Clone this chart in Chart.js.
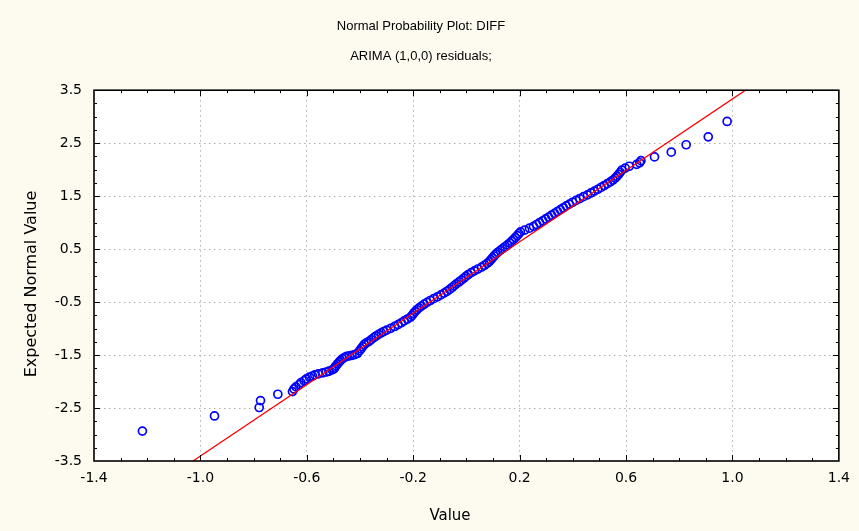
<!DOCTYPE html>
<html>
<head>
<meta charset="utf-8">
<script src="https://cdn.jsdelivr.net/npm/chart.js@4.4.1/dist/chart.umd.min.js"></script>
<style>
  html, body { margin: 0; padding: 0; background: #fdfaf0; }
  #wrap { width: 859px; height: 531px; }
</style>
</head>
<body>
<div id="wrap"><canvas id="c" width="859" height="531"></canvas></div>
<script>
// ---- data ----
const chartTitle = 'Normal Probability Plot: DIFF';
const chartSubtitle = 'ARIMA (1,0,0) residuals;';
const xAxisTitle = 'Value';
const yAxisTitle = 'Expected Normal Value';

const xTickLabels = ['-1.4', '-1.0', '-0.6', '-0.2', '0.2', '0.6', '1.0', '1.4'];
const yTickLabels = ['-3.5', '-2.5', '-1.5', '-0.5', '0.5', '1.5', '2.5', '3.5'];

// residual values (x) and their expected normal values (y)
const values = [
  -1.218,-0.947,-0.779,-0.774,-0.709,-0.654,-0.648,-0.641,-0.629,-0.622,
  -0.610,-0.602,-0.590,-0.579,-0.570,-0.557,-0.540,-0.527,-0.517,-0.505,
  -0.498,-0.494,-0.490,-0.484,-0.478,-0.473,-0.466,-0.458,-0.450,-0.440,
  -0.430,-0.420,-0.410,-0.402,-0.396,-0.390,-0.384,-0.376,-0.367,-0.358,
  -0.348,-0.340,-0.330,-0.320,-0.311,-0.300,
  -0.285,-0.270,-0.257,-0.245,-0.234,-0.222,-0.210,-0.204,-0.199,-0.193,
  -0.186,-0.178,-0.169,-0.159,-0.148,-0.136,-0.123,-0.109,-0.096,-0.084,
  -0.073,-0.063,-0.054,-0.046,-0.038,-0.028,-0.019,-0.010,-0.002,0.007,
  0.018,0.030,0.043,0.057,0.068,0.078,0.086,0.092,0.098,0.104,
  0.110,0.118,0.127,0.136,0.145,0.154,0.163,0.170,0.177,0.184,
  0.191,0.197,0.203,0.219,0.237,0.252,0.264,0.275,0.287,0.298,
  0.309,0.320,0.331,0.342,0.353,0.364,0.375,0.387,0.399,0.412,
  0.426,0.440,0.455,0.468,0.481,0.494,0.506,0.518,0.530,0.541,
  0.551,0.559,0.566,0.572,0.578,0.584,
  0.597,0.612,0.640,0.651,0.656,0.707,0.770,0.826,0.909,0.980
];
const expected = [
  -2.935,-2.650,-2.490,-2.360,-2.240,-2.190,-2.140,-2.100,-2.060,-2.020,
  -1.985,-1.950,-1.915,-1.895,-1.875,-1.855,-1.835,-1.820,-1.805,-1.780,
  -1.760,-1.730,-1.700,-1.665,-1.630,-1.600,-1.570,-1.545,-1.525,-1.515,
  -1.505,-1.490,-1.470,-1.420,-1.380,-1.340,-1.300,-1.270,-1.245,-1.210,
  -1.170,-1.140,-1.110,-1.080,-1.055,-1.030,
  -0.995,-0.960,-0.925,-0.890,-0.855,-0.820,-0.785,-0.750,-0.715,-0.680,
  -0.645,-0.610,-0.575,-0.540,-0.505,-0.470,-0.435,-0.400,-0.365,-0.330,
  -0.295,-0.260,-0.225,-0.190,-0.155,-0.120,-0.085,-0.050,-0.015,0.020,
  0.055,0.090,0.125,0.160,0.195,0.230,0.265,0.300,0.335,0.370,
  0.405,0.440,0.475,0.510,0.545,0.580,0.615,0.650,0.685,0.720,
  0.755,0.790,0.825,0.860,0.895,0.930,0.965,1.000,1.035,1.070,
  1.105,1.140,1.175,1.210,1.245,1.280,1.315,1.350,1.385,1.420,
  1.455,1.490,1.525,1.560,1.595,1.630,1.665,1.700,1.735,1.770,
  1.805,1.840,1.875,1.910,1.950,1.990,
  2.030,2.064,2.100,2.130,2.170,2.240,2.330,2.470,2.620,2.910
];

// reference (normal) line end points
const lineX = [-1.028, 1.049];
const lineY = [-3.5, 3.5];

const xMin = -1.4, xMax = 1.4, xStep = 0.4, xMinorStep = 0.1;
const yMin = -3.5, yMax = 3.5, yStep = 1.0, yMinorStep = 0.25;

// ---- build chart ----
const points = values.map((v, i) => ({ x: v, y: expected[i] }));
const linePts = lineX.map((v, i) => ({ x: v, y: lineY[i] }));

const frameColor = '#000000';
const gridColor = '#b0b0b0';

const framePlugin = {
  id: 'frame',
  beforeDraw(chart) {
    const { ctx, chartArea: a } = chart;
    ctx.save();
    ctx.fillStyle = '#fdfaf0';
    ctx.fillRect(0, 0, chart.width, chart.height);
    ctx.fillStyle = '#ffffff';
    ctx.fillRect(a.left, a.top, a.right - a.left, a.bottom - a.top);
    ctx.restore();
  },
  afterDraw(chart) {
    const { ctx, chartArea: a, scales } = chart;
    const xs = scales.x, ys = scales.y;
    ctx.save();
    ctx.strokeStyle = frameColor;
    ctx.lineWidth = 1;
    ctx.beginPath();
    const nX = Math.round((xMax - xMin) / xMinorStep);
    for (let i = 1; i < nX; i++) {
      const v = xMin + i * xMinorStep;
      const px = Math.round(xs.getPixelForValue(v)) + 0.5;
      const major = (i % Math.round(xStep / xMinorStep)) === 0;
      const len = major ? 6 : 3;
      ctx.moveTo(px, a.bottom); ctx.lineTo(px, a.bottom - len);
      ctx.moveTo(px, a.top); ctx.lineTo(px, a.top + len);
    }
    const nY = Math.round((yMax - yMin) / yMinorStep);
    for (let i = 1; i < nY; i++) {
      const v = yMin + i * yMinorStep;
      const py = Math.round(ys.getPixelForValue(v)) + 0.5;
      const major = (i % Math.round(yStep / yMinorStep)) === 0;
      const len = major ? 6 : 3;
      ctx.moveTo(a.left, py); ctx.lineTo(a.left + len, py);
      ctx.moveTo(a.right, py); ctx.lineTo(a.right - len, py);
    }
    ctx.stroke();
    ctx.lineWidth = 1.6;
    ctx.strokeRect(a.left, a.top, a.right - a.left, a.bottom - a.top);

    // axis titles (placed as in the reference, slightly off the plot centre)
    ctx.fillStyle = '#000000';
    ctx.textAlign = 'center';
    ctx.textBaseline = 'middle';
    ctx.font = '15px "DejaVu Sans"';
    ctx.fillText(xAxisTitle, 450, 516);
    ctx.save();
    ctx.translate(32, 284);
    ctx.rotate(-Math.PI / 2);
    ctx.font = '16px "DejaVu Sans"';
    ctx.fillText(yAxisTitle, 0, 0);
    ctx.restore();
    ctx.restore();
  }
};

const edgeTransparent = (scaleMin, scaleMax) => (ctx) => {
  const v = ctx.tick ? ctx.tick.value : null;
  if (v === null) return gridColor;
  if (Math.abs(v - scaleMin) < 1e-6 || Math.abs(v - scaleMax) < 1e-6) return 'rgba(0,0,0,0)';
  return gridColor;
};

new Chart(document.getElementById('c'), {
  type: 'scatter',
  data: {
    datasets: [
      {
        type: 'line',
        label: 'normal line',
        data: linePts,
        borderColor: '#ff0000',
        borderWidth: 1.3,
        pointRadius: 0,
        fill: false,
        tension: 0,
        order: 0
      },
      {
        label: 'residuals',
        data: points,
        pointStyle: 'circle',
        pointRadius: 4,
        pointBorderWidth: 1.7,
        borderColor: '#0000ff',
        backgroundColor: 'rgba(0,0,0,0)',
        pointBackgroundColor: 'rgba(0,0,0,0)',
        pointBorderColor: '#0000ff',
        order: 1
      }
    ]
  },
  options: {
    responsive: false,
    animation: false,
    devicePixelRatio: 1,
    layout: { padding: { left: 0, right: 17, top: 0, bottom: 0 } },
    plugins: {
      legend: { display: false },
      tooltip: { enabled: false },
      title: {
        display: true,
        text: chartTitle,
        color: '#000000',
        font: { family: 'Liberation Sans', size: 13, weight: 'normal', lineHeight: 1.2 },
        padding: { top: 19, bottom: 7 }
      },
      subtitle: {
        display: true,
        text: chartSubtitle,
        color: '#000000',
        font: { family: 'Liberation Sans', size: 13, weight: 'normal', lineHeight: 1.2 },
        padding: { top: 7.4, bottom: 25.6 }
      }
    },
    scales: {
      x: {
        type: 'linear',
        min: xMin, max: xMax,
        afterFit(scale) { scale.height = 70; },
        ticks: {
          stepSize: xStep,
          color: '#000000',
          font: { family: 'DejaVu Sans', size: 14 },
          padding: 9,
          maxRotation: 0,
          autoSkip: false,
          callback: (v, i) => xTickLabels[i]
        },
        grid: { drawTicks: false, color: edgeTransparent(xMin, xMax), lineWidth: 1 },
        border: { display: false, dash: [1.5, 3.5] },
        title: { display: false }
      },
      y: {
        type: 'linear',
        min: yMin, max: yMax,
        afterFit(scale) { scale.width = 94; },
        ticks: {
          stepSize: yStep,
          color: '#000000',
          font: { family: 'DejaVu Sans', size: 14 },
          padding: 12,
          autoSkip: false,
          callback: (v, i) => yTickLabels[i]
        },
        grid: { drawTicks: false, color: edgeTransparent(yMin, yMax), lineWidth: 1 },
        border: { display: false, dash: [1.5, 3.5] },
        title: { display: false }
      }
    }
  },
  plugins: [framePlugin]
});
</script>
</body>
</html>
